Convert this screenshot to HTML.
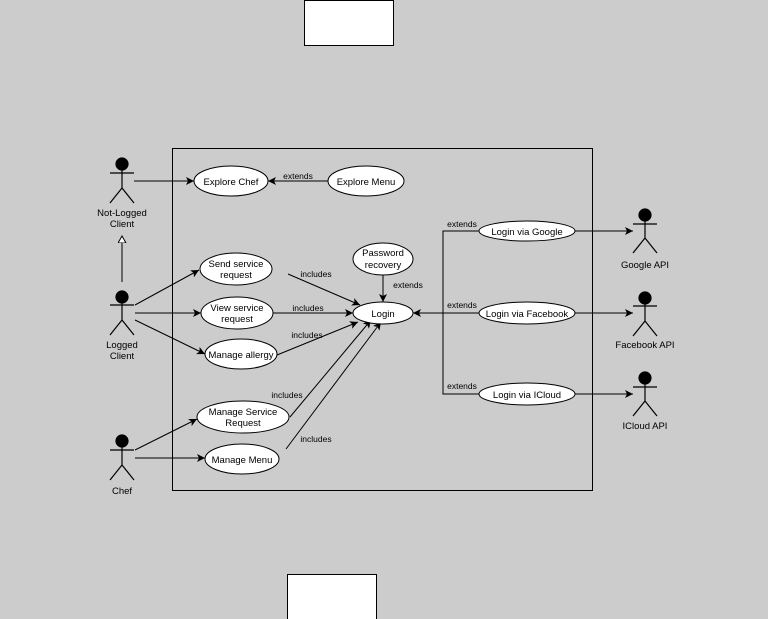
<!DOCTYPE html>
<html><head><style>html,body{margin:0;padding:0;background:#cccccc}svg{display:block}</style></head>
<body>
<svg width="768" height="619" viewBox="0 0 768 619" xmlns="http://www.w3.org/2000/svg" font-family="Liberation Sans, sans-serif" font-size="9.5">
<defs>
<marker id="a" markerWidth="10" markerHeight="10" refX="8" refY="4" orient="auto" markerUnits="userSpaceOnUse"><path d="M0,0 L8,4 L0,8 L2,4 Z" fill="#000"/></marker>
<marker id="g" markerWidth="12" markerHeight="12" refX="7" refY="4" orient="auto" markerUnits="userSpaceOnUse"><path d="M0,0 L7,4 L0,8 Z" fill="#fff" stroke="#000"/></marker>
</defs>
<rect width="768" height="619" fill="#cccccc"/>
<rect x="304.5" y="0.5" width="89" height="45" fill="#fff" stroke="#000"/>
<rect x="287.5" y="574.5" width="89" height="45" fill="#fff" stroke="#000"/>
<rect x="172.5" y="148.5" width="420" height="342" fill="none" stroke="#000"/>
<g stroke="#000" stroke-width="1.2" fill="none">
<!-- actors -->
<g id="act"></g>
</g>
<g stroke="#000" stroke-width="1.2">
<circle cx="122" cy="164" r="6" fill="#000"/><path d="M122,170V188M110,173H134M122,188L110,203M122,188L134,203" fill="none"/>
<circle cx="122" cy="297" r="6" fill="#000"/><path d="M122,303V320M110,305H134M122,320L110,335M122,320L134,335" fill="none"/>
<circle cx="122" cy="441" r="6" fill="#000"/><path d="M122,447V465M110,450H134M122,465L110,480M122,465L134,480" fill="none"/>
<circle cx="645" cy="215" r="6" fill="#000"/><path d="M645,221V238M633,224H657M645,238L633,253M645,238L657,253" fill="none"/>
<circle cx="645" cy="298" r="6" fill="#000"/><path d="M645,304V321M633,306H657M645,321L633,336M645,321L657,336" fill="none"/>
<circle cx="645" cy="378" r="6" fill="#000"/><path d="M645,384V401M633,387H657M645,401L633,416M645,401L657,416" fill="none"/>
</g>
<g stroke="#000" stroke-width="1" fill="none">
<line x1="134" y1="181" x2="194" y2="181" marker-end="url(#a)"/>
<line x1="328" y1="181" x2="268" y2="181" marker-end="url(#a)"/>
<line x1="122" y1="282" x2="122" y2="236" marker-end="url(#g)"/>
<line x1="135" y1="305" x2="199" y2="270" marker-end="url(#a)"/>
<line x1="135" y1="313" x2="201" y2="313" marker-end="url(#a)"/>
<line x1="135" y1="320" x2="205" y2="354" marker-end="url(#a)"/>
<line x1="288" y1="274" x2="360" y2="305" marker-end="url(#a)"/>
<line x1="273" y1="313" x2="353" y2="313" marker-end="url(#a)"/>
<line x1="277" y1="355" x2="358" y2="322" marker-end="url(#a)"/>
<line x1="290" y1="417" x2="371" y2="320" marker-end="url(#a)"/>
<line x1="286" y1="449" x2="381" y2="322" marker-end="url(#a)"/>
<line x1="383" y1="275" x2="383" y2="302" marker-end="url(#a)"/>
<line x1="135" y1="450" x2="197" y2="419" marker-end="url(#a)"/>
<line x1="135" y1="458" x2="205" y2="458" marker-end="url(#a)"/>
<path d="M479,231H443V394H479"/>
<line x1="479" y1="313" x2="413" y2="313" marker-end="url(#a)"/>
<line x1="575" y1="231" x2="633" y2="231" marker-end="url(#a)"/>
<line x1="575" y1="313" x2="633" y2="313" marker-end="url(#a)"/>
<line x1="575" y1="394" x2="633" y2="394" marker-end="url(#a)"/>
</g>
<g fill="#fff" stroke="#000" stroke-width="1">
<ellipse cx="231" cy="181" rx="37" ry="15"/>
<ellipse cx="366" cy="181" rx="38" ry="15"/>
<ellipse cx="236" cy="269" rx="36" ry="16"/>
<ellipse cx="237" cy="313" rx="36" ry="16"/>
<ellipse cx="241" cy="354" rx="36" ry="15"/>
<ellipse cx="383" cy="259" rx="30" ry="16"/>
<ellipse cx="383" cy="313" rx="30" ry="11"/>
<ellipse cx="243" cy="417" rx="46" ry="16"/>
<ellipse cx="242" cy="459" rx="37" ry="15"/>
<ellipse cx="527" cy="231" rx="48" ry="10"/>
<ellipse cx="527" cy="313" rx="48" ry="11"/>
<ellipse cx="527" cy="394" rx="48" ry="11"/>
</g>
<g fill="#000" text-anchor="middle">
<text x="231" y="185">Explore Chef</text>
<text x="366" y="185">Explore Menu</text>
<text x="236" y="267">Send service</text><text x="236" y="278">request</text>
<text x="237" y="311">View service</text><text x="237" y="322">request</text>
<text x="241" y="358">Manage allergy</text>
<text x="383" y="256">Password</text><text x="383" y="268">recovery</text>
<text x="383" y="317">Login</text>
<text x="243" y="415">Manage Service</text><text x="243" y="426">Request</text>
<text x="242" y="463">Manage Menu</text>
<text x="527" y="235">Login via Google</text>
<text x="527" y="317">Login via Facebook</text>
<text x="527" y="398">Login via ICloud</text>
<text x="122" y="216">Not-Logged</text><text x="122" y="227">Client</text>
<text x="122" y="348">Logged</text><text x="122" y="359">Client</text>
<text x="122" y="494">Chef</text>
<text x="645" y="268">Google API</text>
<text x="645" y="348">Facebook API</text>
<text x="645" y="429">ICloud API</text>
<g font-size="8.5">
<text x="298" y="179">extends</text>
<text x="316" y="277">includes</text>
<text x="308" y="311">includes</text>
<text x="307" y="338">includes</text>
<text x="287" y="398">includes</text>
<text x="316" y="442">includes</text>
<text x="408" y="288">extends</text>
<text x="462" y="227">extends</text>
<text x="462" y="308">extends</text>
<text x="462" y="389">extends</text>
</g>
</g>
</svg>
</body></html>
